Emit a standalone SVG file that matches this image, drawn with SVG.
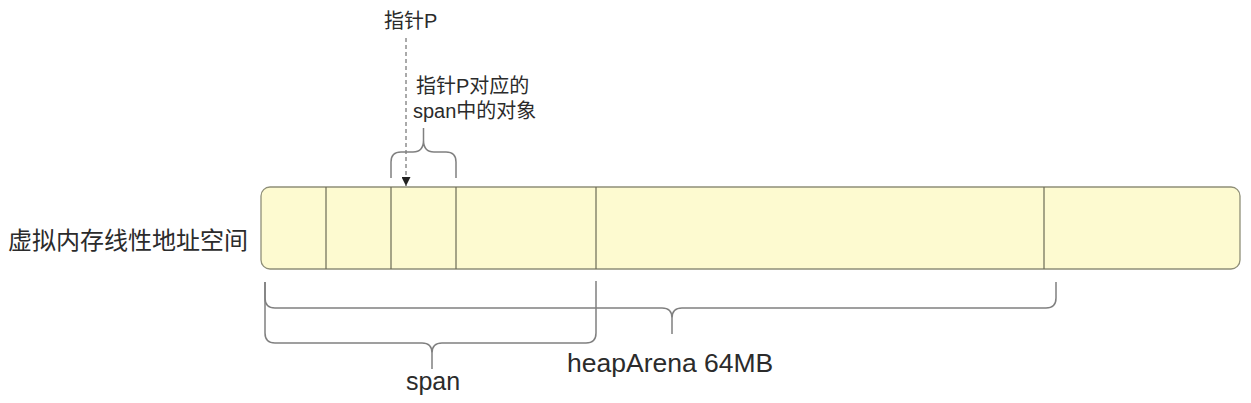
<svg xmlns="http://www.w3.org/2000/svg" width="1251" height="403" viewBox="0 0 1251 403">
<style>
.t{font-family:"Liberation Sans","Noto Sans CJK SC",sans-serif;fill:#2b2b2b}
.br{fill:none;stroke:#808080;stroke-width:1.5}
.div{stroke:#6b6b55;stroke-width:1.2}
</style>
<defs>
<marker id="ah" viewBox="0 0 10 10" refX="10" refY="5" markerWidth="9" markerHeight="9" markerUnits="userSpaceOnUse" orient="auto">
<path d="M0,0 L10,5 L0,10 Z" fill="#222"/>
</marker>
</defs>
<rect width="1251" height="403" fill="#fff"/>
<g id="memory">
<rect x="261" y="187" width="979" height="82" rx="9" fill="#fdfad0" stroke="#8f8f78" stroke-width="1.3"/>
<line class="div" x1="326" y1="187" x2="326" y2="269"/>
<line class="div" x1="391" y1="187" x2="391" y2="269"/>
<line class="div" x1="456" y1="187" x2="456" y2="269"/>
<line class="div" x1="596" y1="187" x2="596" y2="269"/>
<line class="div" x1="1044" y1="187" x2="1044" y2="269"/>
</g>
<g id="label-memory"><text class="t" x="8" y="249" font-size="24">虚拟内存线性地址空间</text></g>
<g id="label-pointer"><text class="t" x="384" y="28" font-size="20">指针P</text></g>
<g id="label-object">
<text class="t" x="416" y="93" font-size="20">指针P对应的</text>
<text class="t" x="413" y="118" font-size="20">span中的对象</text>
</g>
<g id="label-span"><text class="t" x="433" y="390" font-size="25" text-anchor="middle">span</text></g>
<g id="label-heaparena"><text class="t" x="567" y="372" font-size="26.5">heapArena 64MB</text></g>
<g id="connectors">
<line x1="406" y1="38" x2="406" y2="186" stroke="#555" stroke-width="1" stroke-dasharray="4 3" marker-end="url(#ah)"/>
<path class="br" d="M391,178 V162 Q391,152 401,152 H413 Q423.5,152 423.5,140 V128 M423.5,140 Q423.5,152 434,152 H446 Q456,152 456,162 V178"/>
<path class="br" d="M265,282 V298 Q265,308 275,308 H662 Q672,308 672,318 V334 M672,318 Q672,308 682,308 H1046 Q1056,308 1056,298 V282"/>
<path class="br" d="M265,282 V333 Q265,343 275,343 H422 Q432,343 432,353 V369 M432,353 Q432,343 442,343 H586 Q596,343 596,333 V281"/>
</g>
</svg>
